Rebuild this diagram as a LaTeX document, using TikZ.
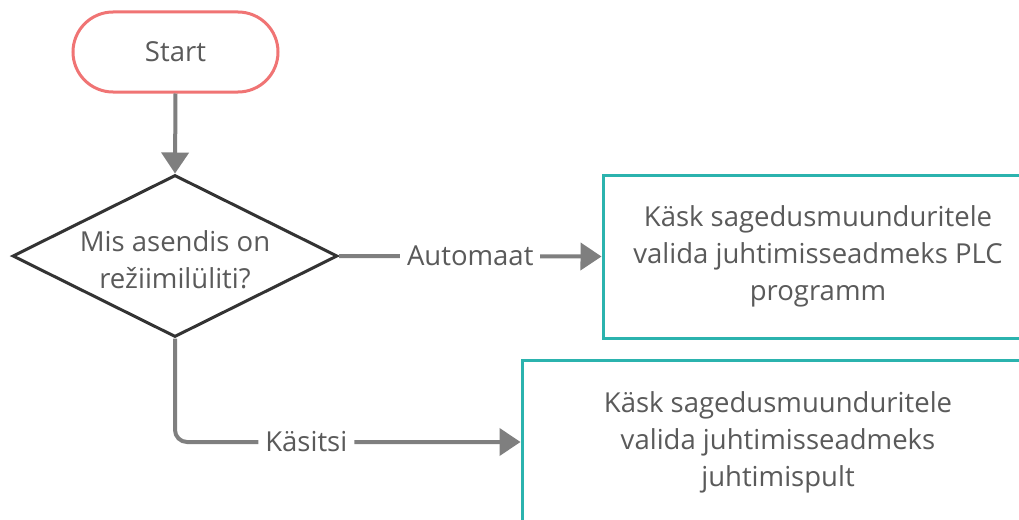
\documentclass[tikz,border=0pt]{standalone}
\usepackage{fontspec}
\setmainfont{Open Sans}
\usetikzlibrary{shapes.geometric,arrows.meta}
\definecolor{startred}{HTML}{F07474}
\definecolor{boxteal}{HTML}{2BB3AE}
\definecolor{linegray}{HTML}{7F7F7F}
\definecolor{txtgray}{HTML}{5A5A5A}
\definecolor{edgedark}{HTML}{333333}
\tikzset{
  txt/.style={font=\fontsize{27.5}{37}\selectfont, text=txtgray, align=center},
  startnode/.style={txt, draw=startred, line width=3pt, fill=white,
    rounded corners=40pt, minimum width=205pt, minimum height=80pt},
  decnode/.style={draw=edgedark, line width=3pt, diamond, inner sep=0pt,
    minimum width=325pt, minimum height=162pt, fill=white},
  procnode/.style={txt, draw=boxteal, line width=3pt, fill=white,
    minimum height=163pt},
  conn/.style={draw=linegray, line width=4pt,
    -{Triangle[length=21pt,width=27pt]}},
  lbl/.style={txt, fill=white, inner sep=7pt}
}
\begin{document}
\begin{tikzpicture}[x=1pt,y=-1pt]
\useasboundingbox (0,0) rectangle (1019,519);
\clip (0,0) rectangle (1019,519);
\fill[white] (0,0) rectangle (1019,519);

% nodes
\node[startnode] (start) at (175.5,52) {Start};
\node[decnode] (dec) at (175,256) {};
\node[txt] (dectext) at (175,260) {Mis asendis on\\režiimilüliti?};
\node[procnode, minimum width=430pt] (auto) at (818,256.5)
  {Käsk sagedusmuunduritele\\valida juhtimisseadmeks PLC\\programm};
\node[procnode, minimum width=512pt] (manual) at (778,442)
  {Käsk sagedusmuunduritele\\valida juhtimisseadmeks\\juhtimispult};

% connectors
\draw[conn] (start.south) -- (dec.north);
\draw[conn] (dec.east) -- node[lbl] {Automaat} (auto.west);
\draw[conn, rounded corners=12pt] (dec.south) |- node[lbl, pos=0.69] {Käsitsi} (manual.west);
\end{tikzpicture}
\end{document}
